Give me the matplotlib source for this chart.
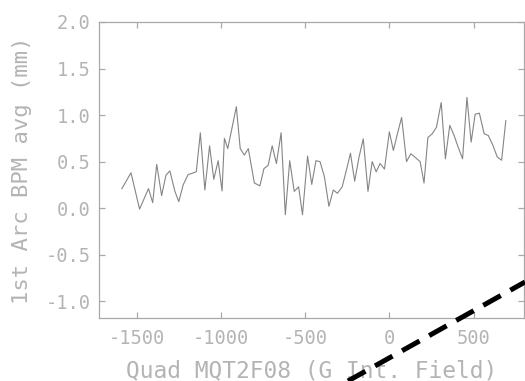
import matplotlib
matplotlib.use("Agg")
import matplotlib.pyplot as plt
from matplotlib.lines import Line2D

# Data
field = [-1589, -1535, -1484, -1431, -1406, -1382, -1353, -1327, -1304, -1274,
         -1251, -1225, -1196, -1147, -1123, -1096, -1068, -1043, -1017, -994,
         -980, -960, -935, -909, -886, -862, -838, -802, -769, -745,
         -720, -696, -671, -643, -618, -592, -565, -539, -516, -486,
         -461, -436, -412, -386, -359, -333, -308, -280, -255, -231,
         -206, -180, -155, -127, -102, -78, -55, -29, 0, 24,
         48, 73, 102, 128, 157, 183, 206, 229, 255, 280,
         308, 333, 359, 385, 408, 435, 461, 486, 510, 535,
         563, 588, 614, 641, 667, 692]
bpm_avg = [0.21, 0.38, -0.01, 0.21, 0.06, 0.47, 0.135, 0.355, 0.40, 0.18,
           0.07, 0.25, 0.36, 0.39, 0.81, 0.195, 0.67, 0.31, 0.51, 0.185,
           0.75, 0.64, 0.86, 1.09, 0.64, 0.57, 0.64, 0.27, 0.24, 0.425,
           0.46, 0.67, 0.48, 0.81, -0.07, 0.51, 0.18, 0.23, -0.07, 0.56,
           0.255, 0.51, 0.50, 0.34, 0.02, 0.195, 0.16, 0.23, 0.41, 0.59,
           0.29, 0.55, 0.745, 0.18, 0.50, 0.39, 0.48, 0.42, 0.82, 0.62,
           0.80, 0.975, 0.50, 0.585, 0.54, 0.50, 0.27, 0.76, 0.80, 0.87,
           1.135, 0.53, 0.89, 0.78, 0.66, 0.53, 1.19, 0.71, 1.01, 1.02,
           0.80, 0.78, 0.68, 0.55, 0.515, 0.94]

xticks = [-1500, -1000, -500, 0, 500]
xticklabels = ["-1500", "-1000", "-500", "0", "500"]
yticks = [-1.0, -0.5, 0.0, 0.5, 1.0, 1.5, 2.0]
yticklabels = ["-1.0", "-0.5", "0.0", "0.5", "1.0", "1.5", "2.0"]

plt.rcParams["font.family"] = ["DejaVu Sans Mono"]

txt = "#b4b4b4"
spine = "#a8a8a8"

fig = plt.figure(figsize=(5.25, 3.81), dpi=100)
ax = fig.add_axes([99/525, 1-318/381, 425/525, 296/381])

ax.plot(field, bpm_avg, color="#858585", lw=0.8)

ax.set_xlim(-1725, 800)
ax.set_ylim(-1.18, 2.0)
ax.set_xticks(xticks)
ax.set_xticklabels(xticklabels)
ax.set_yticks(yticks)
ax.set_yticklabels(yticklabels)

for s in ax.spines.values():
    s.set_color(spine)
    s.set_linewidth(0.9)

ax.tick_params(direction="in", length=4, width=0.9, color=spine,
               top=True, right=True, labelsize=13.5, labelcolor=txt)
ax.tick_params(axis="x", pad=8)
ax.tick_params(axis="y", pad=6)

ax.set_xlabel("Quad MQT2F08 (G Int. Field)", fontsize=16.5, color=txt)
ax.xaxis.set_label_coords(0.5, -0.14)
ax.set_ylabel("1st Arc BPM avg (mm)", fontsize=16, color=txt)
ax.yaxis.set_label_coords(-0.158, 0.5)

# thick black dashed overlay line crossing the lower right corner
line = Line2D([348/525, 525/525], [1-381/381, 1-282/381], transform=fig.transFigure,
              color="black", lw=3.6, dashes=(4, 2.2), solid_capstyle="butt",
              dash_capstyle="butt")
fig.add_artist(line)

fig.savefig("out.png", dpi=100)
